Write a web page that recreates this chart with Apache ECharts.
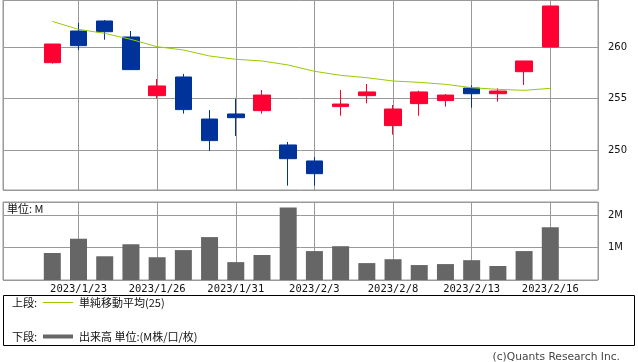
<!DOCTYPE html>
<html><head><meta charset="utf-8">
<script src="https://cdn.jsdelivr.net/npm/echarts@6/dist/echarts.min.js"></script>
<style>html,body{margin:0;padding:0;background:#fff}#c{width:638px;height:362px}</style>
</head><body><div id="c"></div>
<script>
const dates = ['2023/1/20','2023/1/23','2023/1/24','2023/1/25','2023/1/26','2023/1/27','2023/1/30','2023/1/31','2023/2/1','2023/2/2','2023/2/3','2023/2/6','2023/2/7','2023/2/8','2023/2/9','2023/2/10','2023/2/13','2023/2/14','2023/2/15','2023/2/16'];
const openP  = [258.48,261.55,262.52,260.97,255.29,257.10,253.03,253.52,253.84,250.52,248.97,254.23,255.29,252.39,254.52,254.81,256.03,255.48,257.61,260.00];
const closeP = [260.29,260.13,261.48,257.81,256.23,253.94,250.94,253.16,255.35,249.19,247.74,254.48,255.65,254.00,255.65,255.35,255.48,255.74,258.65,263.97];
const lowP   = [258.39,259.71,260.71,257.81,255.00,253.55,249.94,251.39,253.55,246.58,246.58,253.35,254.55,251.52,253.35,254.23,254.13,254.71,256.32,260.00];
const highP  = [260.29,262.32,262.61,261.55,256.90,257.39,253.90,255.00,255.84,250.81,249.35,255.84,256.42,254.39,255.77,255.45,256.29,256.00,258.65,263.97];
const ma25   = [262.48,261.71,261.32,260.74,260.03,259.71,259.13,258.81,258.65,258.26,257.65,257.26,257.03,256.71,256.58,256.39,256.06,255.90,255.81,256.00];
const volume = [0.83,1.27,0.73,1.10,0.70,0.92,1.32,0.55,0.77,2.23,0.89,1.04,0.52,0.64,0.46,0.49,0.61,0.43,0.89,1.62];
const priceTicks = [250,255,260];
const volTicks = ['1M','2M'];

const pos = dates.map((d,i)=>i-1);
const candleData = dates.map((d,i)=>[pos[i], openP[i], closeP[i], lowP[i], highP[i]]);
const maData = dates.map((d,i)=>[pos[i], ma25[i]]);
const volData = dates.map((d,i)=>[pos[i], volume[i]]);

const GRID = '#999';
const FONT = "'DejaVu Sans','Noto Sans CJK JP',sans-serif";
const JP = "'Noto Sans CJK JP','DejaVu Sans',sans-serif";
const xMin = -2.881, xMax = 19.82;

function xAxisCfg(gi, labels){
  return {type:'value', gridIndex:gi, min:xMin, max:xMax, minInterval:3, maxInterval:3, splitNumber:7,
    axisLine:{show:false}, axisTick:{show:false},
    axisLabel:{show:labels, margin:4, color:'#111', fontFamily:"'DejaVu Sans Mono',monospace", fontSize:10.5,
      showMinLabel:false, showMaxLabel:false,
      formatter:v=>{const i=Math.round(v)+1; return (Math.abs(v-Math.round(v))<1e-6 && dates[i]) ? dates[i] : '';}},
    splitLine:{show:true, lineStyle:{color:GRID, width:1}}};
}

const chart = echarts.init(document.getElementById('c'), null, {renderer:'canvas'});
chart.setOption({
  animation:false,
  backgroundColor:'#fff',
  textStyle:{fontFamily:FONT},
  grid:[
    {left:3, top:0, width:595, height:190, show:true, borderColor:GRID, borderWidth:1, containLabel:false},
    {left:3, top:202, width:595, height:78, show:true, borderColor:GRID, borderWidth:1, containLabel:false}
  ],
  xAxis:[xAxisCfg(0,false), xAxisCfg(1,true)],
  yAxis:[
    {type:'value', gridIndex:0, position:'right', min:246.16, max:264.55, minInterval:5, maxInterval:5, splitNumber:4,
      axisLine:{show:false}, axisTick:{show:true, length:5, lineStyle:{color:GRID}},
      axisLabel:{margin:10, color:'#111', fontSize:10, fontFamily:FONT,
        formatter:v=>priceTicks.indexOf(Math.round(v*1000)/1000)>=0 ? String(v) : ''},
      splitLine:{show:true, lineStyle:{color:GRID}}},
    {type:'value', gridIndex:1, position:'right', min:0, max:2.4, interval:1,
      axisLine:{show:false}, axisTick:{show:true, length:5, lineStyle:{color:GRID}},
      axisLabel:{margin:10, color:'#111', fontSize:10, fontFamily:FONT,
        formatter:v=>(v===1||v===2) ? volTicks[v-1] : ''},
      splitLine:{show:true, lineStyle:{color:GRID}}}
  ],
  series:[
    {type:'candlestick', xAxisIndex:0, yAxisIndex:0, data:candleData, encode:{x:0, y:[1,2,3,4]},
      barWidth:17,
      itemStyle:{color:'#ff0033', color0:'#003399', borderColor:'#ff0033', borderColor0:'#003399', borderWidth:1}},
    {type:'line', xAxisIndex:0, yAxisIndex:0, data:maData, symbol:'none', smooth:false,
      lineStyle:{color:'#99cc00', width:1}},
    {type:'bar', xAxisIndex:1, yAxisIndex:1, data:volData, barWidth:17, itemStyle:{color:'#666666'}}
  ],
  graphic:[
    {type:'text', left:7, top:203, style:{text:'単位: M', font:"11px "+JP, fill:'#111'}},
    {type:'rect', shape:{x:3.5, y:295.5, width:631, height:50}, style:{fill:'none', stroke:'#000', lineWidth:1}},
    {type:'text', x:12, y:302.5, style:{text:'上段:', font:"11px "+JP, fill:'#111', verticalAlign:'middle'}},
    {type:'line', shape:{x1:43, y1:302.5, x2:73, y2:302.5}, style:{stroke:'#99cc00', lineWidth:1}},
    {type:'text', x:79, y:302.5, style:{text:'単純移動平均(25)', font:"11px "+JP, fill:'#111', verticalAlign:'middle'}},
    {type:'text', x:12, y:336.5, style:{text:'下段:', font:"11px "+JP, fill:'#111', verticalAlign:'middle'}},
    {type:'line', shape:{x1:43, y1:336.5, x2:73, y2:336.5}, style:{stroke:'#666666', lineWidth:4}},
    {type:'text', x:79, y:336.5, style:{text:'出来高 単位:(M株/口/枚)', font:"11px "+JP, fill:'#111', verticalAlign:'middle'}},
    {type:'text', x:620, y:357, style:{text:'(c)Quants Research Inc.', font:"10.7px 'DejaVu Sans',sans-serif", fill:'#444', align:'right', verticalAlign:'middle'}}
  ]
});
</script></body></html>
